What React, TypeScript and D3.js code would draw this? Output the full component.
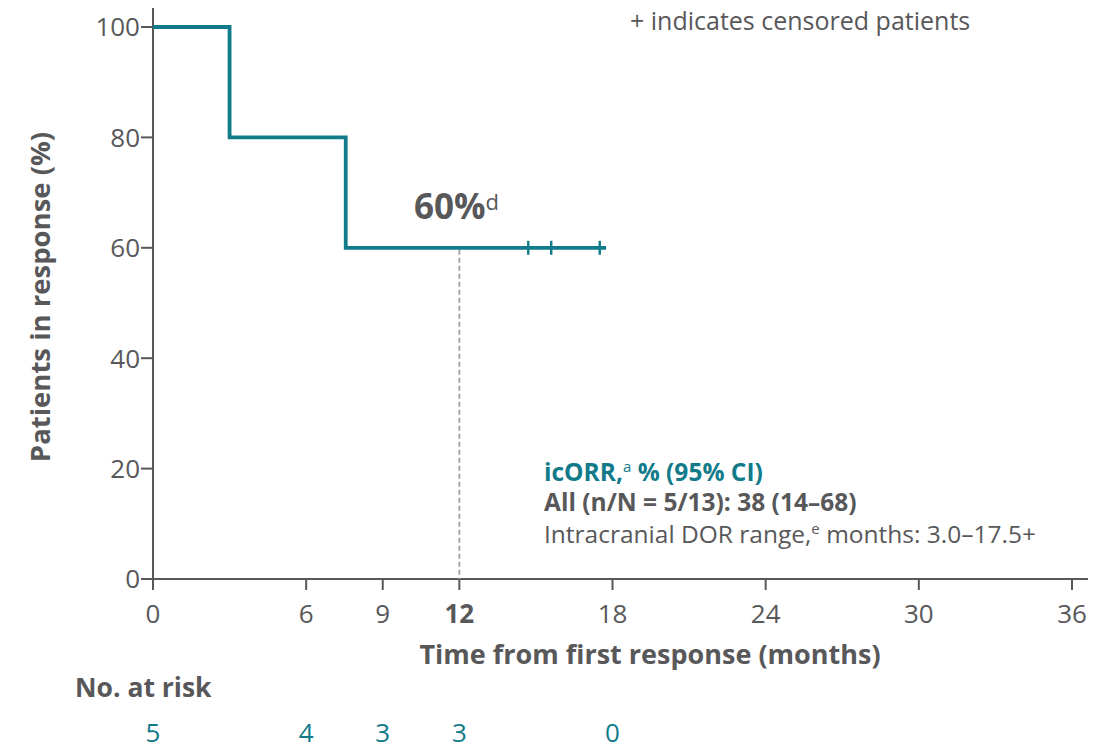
import React from "react";
import * as d3 from "d3";

const curveTimes = [0, 3.0, 7.55, 17.75];
const curveValues = [100, 80, 60, 60];
const censorTimes = [14.7, 15.6, 17.5];
const censorValue = 60;
const xTicks = [0, 6, 9, 12, 18, 24, 30, 36];
const yTicks = [0, 20, 40, 60, 80, 100];
const riskTimes = [0, 6, 9, 12, 18];
const riskCounts = [5, 4, 3, 3, 0];
const medianTime = 12;
const medianValue = 60;

const TEAL = "#127b8a";
const GRAY = "#58585a";
const FONT = "'Open Sans', sans-serif";

export default function App() {
  const W = 1105, H = 749;
  const x = d3.scaleLinear().domain([0, 36]).range([153, 1072]);
  const y = d3.scaleLinear().domain([0, 100]).range([579, 27]);

  const pts: [number, number][] = curveTimes.map((t, i) => [t, curveValues[i]]);
  const line = d3.line<[number, number]>().x(d => x(d[0])).y(d => y(d[1])).curve(d3.curveStepAfter);

  return (
    <svg width={W} height={H} style={{ position: "absolute", left: 0, top: 0, background: "#fff" }} fontFamily={FONT}>
      {/* axes */}
      <line x1={x(0)} x2={x(0)} y1={8} y2={y(0)} stroke={GRAY} strokeWidth={2} />
      <line x1={x(0)} x2={1088} y1={y(0)} y2={y(0)} stroke={GRAY} strokeWidth={2} />
      {yTicks.map(v => (
        <g key={"y" + v}>
          <line x1={x(0) - 12} x2={x(0)} y1={y(v)} y2={y(v)} stroke={GRAY} strokeWidth={2} />
          <text x={x(0) - 13} y={y(v)} dy="0.36em" textAnchor="end" fontSize={26} fill={GRAY}>{v}</text>
        </g>
      ))}
      {xTicks.map(v => (
        <g key={"x" + v}>
          <line x1={x(v)} x2={x(v)} y1={y(0)} y2={y(0) + 11} stroke={GRAY} strokeWidth={2} />
          <text x={x(v)} y={623} textAnchor="middle" fontSize={26} fill={GRAY} fontWeight={v === medianTime ? 700 : 400}>{v}</text>
        </g>
      ))}
      {/* median dashed */}
      <line x1={x(medianTime)} x2={x(medianTime)} y1={y(medianValue) + 2} y2={y(0)} stroke="#a6a6a6" strokeWidth={2} strokeDasharray="5,3" />
      {/* curve */}
      <path d={line(pts) || ""} fill="none" stroke={TEAL} strokeWidth={3.8} strokeLinejoin="miter" />
      {censorTimes.map((t, i) => (
        <line key={"c" + i} x1={x(t)} x2={x(t)} y1={y(censorValue) - 7} y2={y(censorValue) + 7} stroke={TEAL} strokeWidth={2.4} />
      ))}
      {/* 60% label */}
      <text x={414} y={219} fontSize={35} fontWeight={700} fill={GRAY}>60%<tspan fontSize={22} dy={-9} fontWeight={400}>d</tspan></text>
      {/* legend note */}
      <text x={630} y={30} fontSize={25} fill={GRAY}>+ indicates censored patients</text>
      {/* annotation */}
      <text x={544} y={481} fontSize={24.5} fontWeight={700} fill={TEAL}>icORR,<tspan fontSize={15} dy={-9} fontWeight={400}>a</tspan><tspan dy={9}> % (95% CI)</tspan></text>
      <text x={544} y={511} fontSize={24.5} fontWeight={700} fill={GRAY}>All (n/N = 5/13): 38 (14–68)</text>
      <text x={544} y={543} fontSize={24.5} fill={GRAY}>Intracranial DOR range,<tspan fontSize={15} dy={-9}>e</tspan><tspan dy={9}> months: 3.0–17.5+</tspan></text>
      {/* axis titles */}
      <text transform={`translate(50,297) rotate(-90)`} textAnchor="middle" fontSize={27.5} fontWeight={700} fill={GRAY}>Patients in response (%)</text>
      <text x={650} y={664} textAnchor="middle" fontSize={27} fontWeight={700} fill={GRAY}>Time from first response (months)</text>
      {/* risk table */}
      <text x={75} y={697} fontSize={26.5} fontWeight={700} fill={GRAY}>No. at risk</text>
      {riskTimes.map((t, i) => (
        <text key={"r" + i} x={x(t)} y={742} textAnchor="middle" fontSize={26} fill={TEAL}>{riskCounts[i]}</text>
      ))}
    </svg>
  );
}
